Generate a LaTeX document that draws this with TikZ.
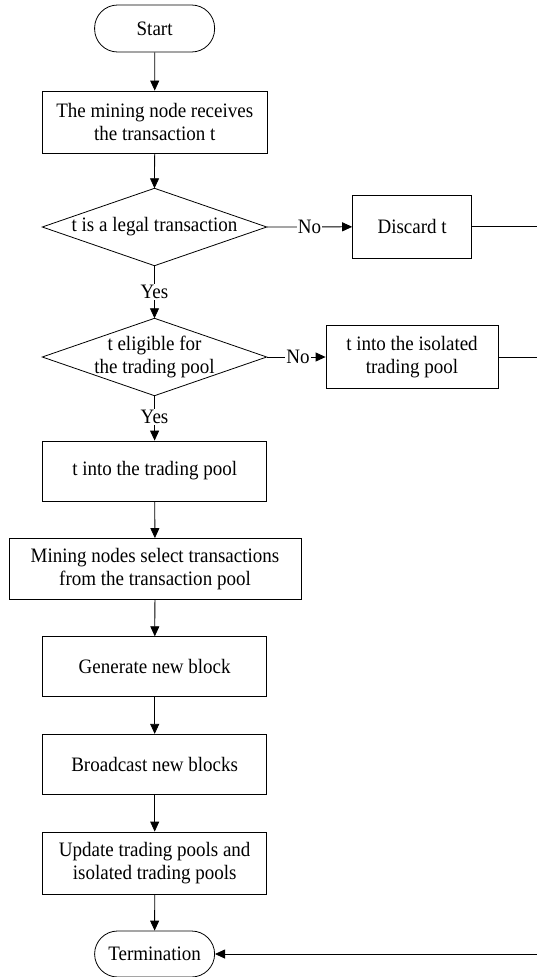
\documentclass[tikz,border=0pt]{standalone}
\usepackage{fontspec}
\setmainfont[FakeStretch=0.927]{Liberation Serif}
\usetikzlibrary{arrows.meta}
\begin{document}
\begin{tikzpicture}[x=1pt,y=-1pt,
  every node/.style={font=\fontsize{20.5}{22.5}\selectfont, inner sep=0pt},
  procbox/.style={draw, line width=0.8pt, minimum width=224pt, minimum height=61pt, align=center},
  terminal/.style={draw, line width=0.8pt, rounded corners=23pt, minimum width=120pt, minimum height=47pt},
  decision/.style={minimum width=224pt, minimum height=77pt, align=center},
  flow/.style={line width=0.8pt, -{Triangle[length=10pt,width=9pt]}},
  plain/.style={line width=0.8pt},
  lbl/.style={fill=white, inner sep=1pt}]
\useasboundingbox (0,0) rectangle (537,977);

% main column
\node[terminal] (start) at (154.6,28.5) {Start};
\node[procbox, minimum width=225pt, minimum height=62pt] (recv) at (154.8,122) {The mining node receives\\the transaction t};
\node[decision] (legal) at (154.5,227) {t is a legal transaction};
\node[decision] (elig) at (154.5,357) {t eligible for\\the trading pool};
\node[procbox, minimum height=60pt] (pool) at (154.7,471) {t into the trading pool};
\node[procbox, minimum width=292pt] (select) at (155,569) {Mining nodes select transactions\\from the transaction pool};
\node[procbox, minimum height=60pt] (gen) at (154.7,666.7) {Generate new block};
\node[procbox, minimum height=60pt] (bcast) at (154.7,764.3) {Broadcast new blocks};
\node[procbox, minimum height=62pt] (upd) at (154.7,863) {Update trading pools and\\isolated trading pools};
\node[terminal, minimum height=46pt] (term) at (154.6,954) {Termination};

% side branch
\node[procbox, minimum width=119pt, minimum height=62.5pt] (discard) at (412.1,226.7) {Discard t};
\node[procbox, minimum width=172pt, minimum height=62.5pt] (iso) at (412,357) {t into the isolated\\trading pool};

% decision outlines
\foreach \d in {legal,elig}
  \draw[plain] (\d.north) -- (\d.east) -- (\d.south) -- (\d.west) -- cycle;

% return line ends at the right margin
\coordinate (r1) at (537,226.7);
\coordinate (r2) at (537,357);
\coordinate (r3) at (537,954);

% connectors
\draw[flow] (start) -- (recv);
\draw[flow] (recv) -- (legal.north);
\draw[flow] (legal.south) -- node[lbl] {Yes} (elig.north);
\draw[flow] (elig.south) -- node[lbl, pos=0.48] {Yes} (pool);
\draw[flow] (pool) -- (select);
\draw[flow] (select) -- (gen);
\draw[flow] (gen) -- (bcast);
\draw[flow] (bcast) -- (upd);
\draw[flow] (upd) -- (term);
\draw[flow] (legal.east) -- node[lbl] {No} (discard);
\draw[flow] (elig.east) -- node[lbl, pos=0.53] {No} (iso);
\draw[plain] (discard) -- (r1);
\draw[plain] (iso) -- (r2);
\draw[flow] (r3) -- (term);
\end{tikzpicture}
\end{document}
